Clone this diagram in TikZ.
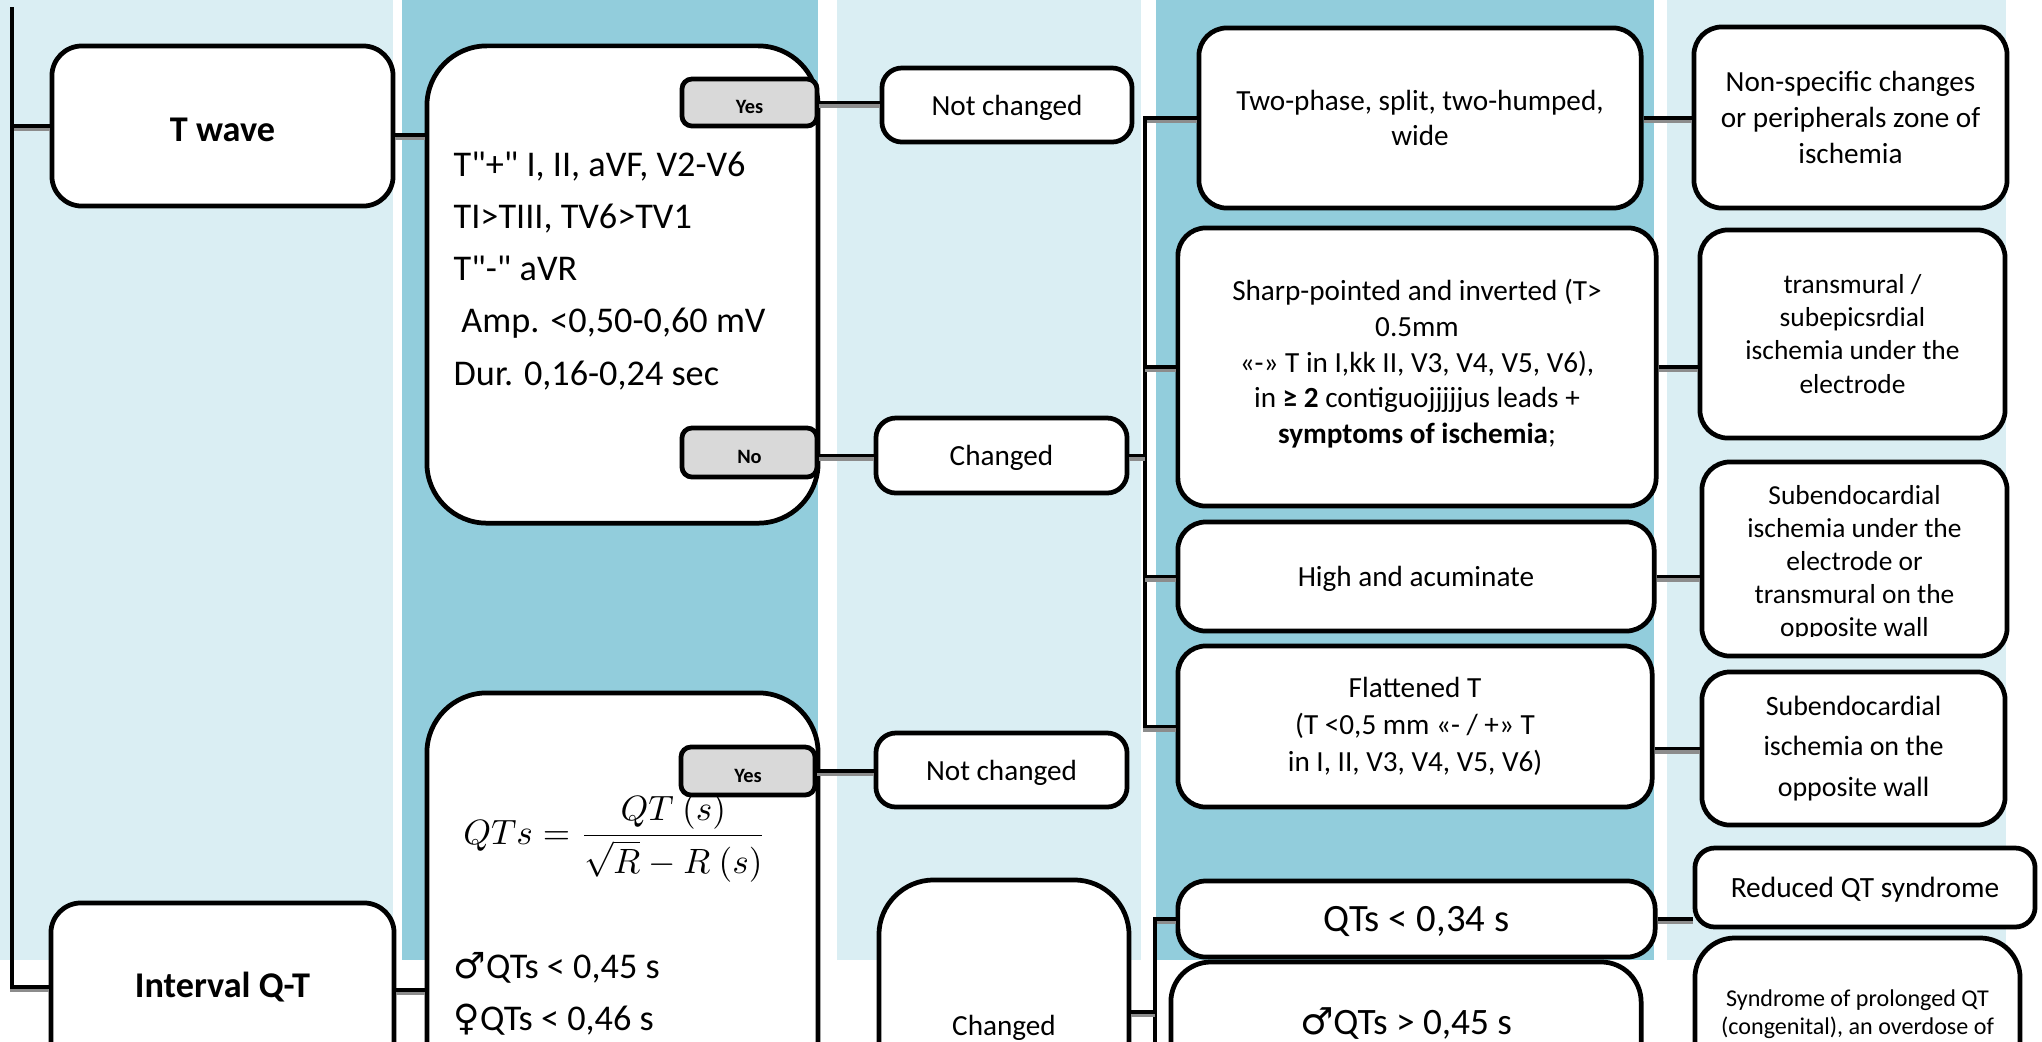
\documentclass[tikz,border=0pt]{standalone}
\usepackage{fontspec}
\setmainfont{Carlito}[Ligatures=TeXOff]
\newfontfamily\symfont{DejaVu Sans}
\usetikzlibrary{positioning, calc}
\definecolor{bandlight}{RGB}{218,238,243}
\definecolor{banddark}{RGB}{146,205,220}
\definecolor{btngray}{RGB}{217,217,217}
\newcommand{\fsz}[2]{\fontsize{#1}{#2}\selectfont}

\begin{document}
\begin{tikzpicture}[x=0.01cm, y=-0.01cm,
  box/.style={rectangle, draw=black, fill=white, line width=1.35pt,
              inner sep=0pt, align=center},
  topic/.style={box, rounded corners=0.3cm, font=\fsz{10.3}{12}\bfseries},
  crit/.style={box, rounded corners=0.6cm},
  crittext/.style={align=left, anchor=west, inner sep=0pt, font=\fsz{10.3}{14.8}},
  btn/.style={box, fill=btngray, rounded corners=0.1cm, text height=6.3pt, text depth=0pt,
              font=\fsz{5.8}{7}\bfseries},
  state/.style={box, rounded corners=0.2cm, text depth=0pt, font=\fsz{8.3}{10}},
  form/.style={box, rounded corners=0.28cm, font=\fsz{8.3}{10.2}},
  dx/.style={box, rounded corners=0.28cm, font=\fsz{7.8}{9.4}},
  conn/.style={line width=1.1pt,
               preaction={draw=black!45, line width=1.1pt, transform canvas={yshift=-0.9pt}}}
]
\useasboundingbox (0,0) rectangle (2042,1041);
\clip (0,0) rectangle (2042,1041);

% ── Background bands ─────────────────────────────────────────────────────
\fill[bandlight] (0,0)    rectangle (393,960);
\fill[banddark]  (402,0)  rectangle (818,960);
\fill[bandlight] (837,0)  rectangle (1141,960);
\fill[banddark]  (1156,0) rectangle (1654,960);
\fill[bandlight] (1667,0) rectangle (2006,960);

% ── Column 1: topics ─────────────────────────────────────────────────────
\coordinate (root) at (12,7);
\node[topic, minimum width=3.41cm, minimum height=1.60cm, text height=8.9pt, text depth=0pt] (twave) at (222.5,126) {T wave};
\node[topic, minimum width=3.43cm, minimum height=1.68cm] (intqt) at (222.5,987) {Interval Q-T};

% ── Column 2: criteria ───────────────────────────────────────────────────
\node[crit, minimum width=3.91cm, minimum height=4.77cm] (tcrit) at (622.5,284.5) {};
\node[crittext] (tlist) at (453,271)
      {T"+" I, II, aVF, V2-V6\\TI>TIII, TV6>TV1\\T"-" aVR\\\hspace*{2.2pt}Amp. <0,50-0,60 mV\\Dur. 0,16-0,24 sec};
\node[btn, minimum width=1.35cm, minimum height=0.47cm] (tyes) at (749.5,102.5) {Yes};
\node[btn, minimum width=1.35cm, minimum height=0.49cm] (tno)  at (749.5,452.5) {No};

\node[crit, minimum width=3.91cm, minimum height=4.77cm] (qcrit) at (622.5,931.5) {};
\node[inner sep=0pt, font=\fsz{10.4}{12}] (qform) at (615,838)
      {$\displaystyle QTs=\frac{QT\ (s)}{\sqrt{R}-R\ (s)}$};
\node[crittext] (qlist) at (453,994)
      {{\symfont ♂}QTs < 0,45 s\\{\symfont ♀}QTs < 0,46 s};
\node[btn, minimum width=1.34cm, minimum height=0.48cm] (qyes) at (748,771) {Yes};

% ── Column 3: changed / not changed ──────────────────────────────────────
\node[state, minimum width=2.50cm, minimum height=0.74cm] (nc1)  at (1007,105)     {Not changed};
\node[state, minimum width=2.51cm, minimum height=0.75cm] (chg1) at (1001.5,455.5) {Changed};
\node[state, minimum width=2.51cm, minimum height=0.74cm] (nc2)  at (1001.5,770)   {Not changed};
\node[state, rounded corners=0.55cm, minimum width=2.50cm, minimum height=2.90cm] (chg2) at (1004,1025) {Changed};

% ── Column 4: T wave forms, QTs ranges ───────────────────────────────────
\node[form, minimum width=4.42cm, minimum height=1.80cm] (twophase) at (1420,118)
      {Two-phase, split, two-humped,\\wide};
\node[form, minimum width=4.78cm, minimum height=2.78cm] (sharp) at (1417,367)
      {\\[-6pt]Sharp-pointed and inverted (T>\\0.5mm\\«-» T in I,kk II, V3, V4, V5, V6),\\in \textbf{≥ 2} contiguojjjjjus leads +\\\textbf{symptoms of ischemia};};
\node[form, minimum width=4.76cm, minimum height=1.09cm, text depth=0pt] (high) at (1416,576.5) {High and acuminate};
\node[form, minimum width=4.74cm, minimum height=1.61cm, font=\fsz{8.3}{10.5}] (flat) at (1415,726.5)
      {Flattened T\\(T <0,5 mm «- / +» T\\in I, II, V3, V4, V5, V6)};
\node[form, minimum width=4.77cm, minimum height=0.76cm, text depth=0pt, font=\fsz{11}{12}] (q34) at (1416.5,919) {QTs < 0,34 s};
\node[form, minimum width=4.70cm, minimum height=1.24cm, rounded corners=0.4cm, font=\fsz{10.6}{12}] (mqt) at (1406,1024)
      {{\symfont ♂}QTs > 0,45 s};

% ── Column 5: conclusions ────────────────────────────────────────────────
\node[dx, minimum width=3.13cm, minimum height=1.81cm, font=\fsz{8.3}{10.2}] (nonspec) at (1850.5,117.5)
      {Non-specific changes\\or peripherals zone of\\ischemia};
\node[dx, minimum width=3.05cm, minimum height=2.08cm] (transm) at (1852.5,334)
      {transmural /\\subepicsrdial\\ischemia under the\\electrode};
\node[dx, minimum width=3.05cm, minimum height=1.94cm] (sub1) at (1854.5,559) {};
\begin{scope}
  \clip (1690,455) rectangle (2020,636);
  \node[font=\fsz{7.8}{9.4}, align=center] (sub1txt) at (1854.5,563.5)
        {Subendocardial\\ischemia under the\\electrode or\\transmural on the\\opposite wall};
\end{scope}
\node[dx, minimum width=3.03cm, minimum height=1.53cm, font=\fsz{7.95}{11.4}] (sub2) at (1853.5,748.5)
      {Subendocardial\\ischemia on the\\opposite wall};
\node[dx, minimum width=3.40cm, minimum height=0.79cm, rounded corners=0.2cm, text depth=0pt, font=\fsz{8.35}{10}] (redqt) at (1865,887.5)
      {Reduced QT syndrome};
\node[dx, minimum width=3.25cm, minimum height=1.52cm, rounded corners=0.4cm, font=\fsz{6.85}{8}] (prolong) at (1857.5,1014)
      {Syndrome of prolonged QT\\(congenital), an overdose of};

% ── Connectors ───────────────────────────────────────────────────────────
\draw[conn] (root) |- (twave.west);
\draw[conn] (root) |- (intqt.west);
\draw[conn] ([yshift=-0.09cm]twave.east) -- ([yshift=-0.09cm]twave.east -| tcrit.west);
\draw[conn] ([yshift=-0.03cm]intqt.east) -- ([yshift=-0.03cm]intqt.east -| qcrit.west);

\draw[conn] (tyes.east) -- (tyes.east -| nc1.west);
\draw[conn] (chg1.west -| tno.east) -- (chg1.west);
\draw[conn] (qyes.east) -- (qyes.east -| nc2.west);

% T wave bus
\coordinate (bus1) at (1145,0);
\draw[conn] (twophase.west) -- (twophase.west -| bus1) -- (flat.west -| bus1) -- (flat.west);
\draw[conn] (sharp.west -| bus1) -- (sharp.west);
\draw[conn] (high.west -| bus1)  -- (high.west);
\draw[conn] (chg1.east) -- (chg1.east -| bus1);

% QT bus
\coordinate (bus2) at (1155,0);
\coordinate (busend) at (1155,1060);
\draw[conn] (q34.west) -- (q34.west -| bus2) -- (busend);
\draw[conn] ([yshift=0.13cm]chg2.east) -- ([yshift=0.13cm]chg2.east -| bus2);

% forms → conclusions
\draw[conn] (twophase.east) -- (twophase.east -| nonspec.west);
\draw[conn] (sharp.east) -- (sharp.east -| transm.west);
\draw[conn] (high.east)  -- (high.east -| sub1.west);
\draw[conn] (sub2.west -| flat.east) -- (sub2.west);
\draw[conn] (q34.east) -- (q34.east -| redqt.west);

\end{tikzpicture}
\end{document}
